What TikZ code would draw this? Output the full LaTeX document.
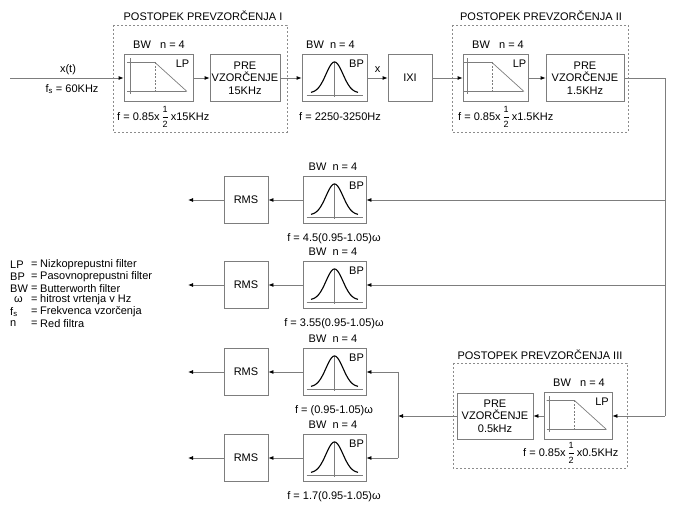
\documentclass[tikz,border=0pt]{standalone}
\usepackage{fontspec}
\setmainfont{Liberation Sans}
\usetikzlibrary{arrows.meta,calc}
\definecolor{linegray}{RGB}{125,125,125}
\definecolor{dashgray}{RGB}{140,140,140}
\newcommand{\myhalf}{$\displaystyle\frac{\mbox{\fontsize{9}{9}\selectfont 1}}{\mbox{\fontsize{9}{9}\selectfont 2}}$}
\begin{document}
\begin{tikzpicture}[x=1pt,y=-1pt,
  txt/.style={font=\fontsize{11}{12.5}\selectfont, inner sep=0pt},
  leg/.style={font=\fontsize{11}{12}\selectfont, inner sep=0pt, anchor=west},
  blk/.style={draw=linegray, line width=0.8pt, minimum height=47pt, inner sep=0pt, align=center, font=\fontsize{11}{12.5}\selectfont},
  conn/.style={draw=linegray, line width=0.8pt},
  arr/.style={conn, -{Latex[length=5pt,width=4pt,color=black]}},
  grp/.style={draw=dashgray, line width=0.8pt, dash pattern=on 2pt off 2pt},
  icon/.style={draw=linegray, line width=0.7pt},
  lpicon/.pic={
    \draw[icon] (-28.5,-19.5) -- (-28.5,16.5);
    \draw[icon] (-31.5,13.5) -- (27.5,13.5);
    \draw[icon] (-31.5,-15.5) -- (-3.5,-15.5) -- (28.5,13.5);
    \draw[icon, dash pattern=on 2pt off 1.5pt] (-3.5,-15.5) -- (-3.5,13.5);
    \node[txt] at (24,-14) {LP};
  },
  bpicon/.pic={
    \draw[icon] (-28,17) -- (28,17);
    \draw[icon] (0,-16) -- (0,19);
    \draw[black, line width=1.1pt] plot[domain=-23.5:23.5, samples=50] (\x,{15-31*exp(-((\x/8.5)^2)/2)});
    \node[txt] at (22,-14) {BP};
  }
]
\useasboundingbox (0,0) rectangle (675,510);

% ---------- group frames ----------
\draw[grp] (113,25) rectangle (287,132);
\draw[grp] (452,25) rectangle (628,132);
\draw[grp] (453,363) rectangle (627,468);
\node[txt] (T1) at (203,16) {POSTOPEK PREVZORČENJA I};
\node[txt] (T2) at (541,16) {POSTOPEK PREVZORČENJA II};
\node[txt] (T3) at (540,355) {POSTOPEK PREVZORČENJA III};

% ---------- top row ----------
\coordinate (in) at (10,78);
\node[blk, minimum width=69pt] (LP1) at (158.5,78) {};
\pic at (LP1) {lpicon};
\node[blk, minimum width=70pt] (PRE1) at (245,78) {PRE\\VZORČENJE\\15KHz};
\node[blk, minimum width=65pt] (BP1) at (334.5,78) {};
\pic at (BP1) {bpicon};
\node[blk, minimum width=44pt] (IXI) at (410,78) {IXI};
\node[blk, minimum width=65pt] (LP2) at (495.5,78) {};
\pic at (LP2) {lpicon};
\node[blk, minimum width=78pt] (PRE2) at (585,78) {PRE\\VZORČENJE\\1.5KHz};

\node[txt] (xt) at (68,70) {x(t)};
\node[txt] (fs) at (72,89) {f\textsubscript{s} = 60KHz};
\node[txt, anchor=west] (bw1) at (133,45) {BW\ \ \ n = 4};
\node[txt, anchor=west] (bw2) at (306,45) {BW\ \ n = 4};
\node[txt, anchor=west] (bw3) at (472,45) {BW\ \ \ n = 4};
\node[txt, anchor=west] (f1) at (117,117) {f = 0.85x\,\myhalf\,x15KHz};
\node[txt, anchor=west] (f2) at (299,117) {f = 2250-3250Hz};
\node[txt, anchor=west] (f3) at (458,117) {f = 0.85x\,\myhalf\,x1.5KHz};

\draw[arr] (in) -- (LP1);
\draw[arr] (LP1) -- (PRE1);
\draw[arr] (PRE1) -- (BP1);
\draw[arr] (BP1) -- node[txt, above=5pt] (xl) {x} (IXI);
\draw[arr] (IXI) -- (LP2);
\draw[arr] (LP2) -- (PRE2);

% ---------- right bus ----------
\coordinate (c1) at (665,78);
\coordinate (t1) at (665,200);
\coordinate (t2) at (665,285);
\coordinate (c2) at (665,416);
\draw[conn] (PRE2.east) -- (c1) -- (c2);

% ---------- filter bank ----------
\foreach \i/\yy/\lab in {1/200/{f = 4.5(0.95-1.05)ω}, 2/285/{f = 3.55(0.95-1.05)ω}, 3/372/{f = (0.95-1.05)ω}, 4/458/{f = 1.7(0.95-1.05)ω}}{
  \node[blk, minimum width=63pt] (F\i) at (334.5,\yy) {};
  \pic at (F\i) {bpicon};
  \node[blk, minimum width=44pt] (R\i) at (246,\yy) {RMS};
  \coordinate (o\i) at (188,\yy);
  \node[txt] (bwF\i) at (333,\yy-33) {BW\ \ n = 4};
  \node[txt] (fF\i) at (334,\yy+39) {\lab};
  \draw[arr] (F\i) -- (R\i);
  \draw[arr] (R\i) -- (o\i);
}
\draw[arr] (t1) -- (F1.east);
\draw[arr] (t2) -- (F2.east);

% ---------- group III ----------
\node[blk, minimum width=76pt, minimum height=46pt] (PRE3) at (495,416) {PRE\\VZORČENJE\\0.5kHz};
\node[blk, minimum width=68pt] (LP3) at (578,416) {};
\pic at (LP3) {lpicon};
\node[txt, anchor=west] (bw4) at (553,383) {BW\ \ \ n = 4};
\node[txt, anchor=west] (f4) at (523,453) {f = 0.85x\,\myhalf\,x0.5KHz};
\draw[arr] (c2) -- (LP3.east);
\draw[arr] (LP3) -- (PRE3);
\coordinate (j) at (398,416);
\coordinate (j3) at (398,372);
\coordinate (j4) at (398,458);
\draw[arr] (PRE3.west) -- (j);
\draw[conn] (j3) -- (j4);
\draw[arr] (j3) -- (F3.east);
\draw[arr] (j4) -- (F4.east);

% ---------- legend ----------
\node[leg] (l1a) at (10,265) {LP};
\node[leg] (l1b) at (31,265) {=};
\node[leg] (l1c) at (40,265) {Nizkoprepustni filter};
\node[leg] (l2a) at (10,277) {BP};
\node[leg] (l2b) at (31,277) {=};
\node[leg] (l2c) at (40,277) {Pasovnoprepustni filter};
\node[leg] (l3a) at (10,289) {BW};
\node[leg] (l3b) at (31,289) {=};
\node[leg] (l3c) at (40,289) {Butterworth filter};
\node[leg] (l4a) at (14,300) {ω};
\node[leg] (l4b) at (31,300) {=};
\node[leg] (l4c) at (40,300) {hitrost vrtenja v Hz};
\node[leg] (l5a) at (10,312) {f\textsubscript{s}};
\node[leg] (l5b) at (31,312) {=};
\node[leg] (l5c) at (40,312) {Frekvenca vzorčenja};
\node[leg] (l6a) at (10,324) {n};
\node[leg] (l6b) at (31,324) {=};
\node[leg] (l6c) at (40,324) {Red filtra};
\end{tikzpicture}
\end{document}
